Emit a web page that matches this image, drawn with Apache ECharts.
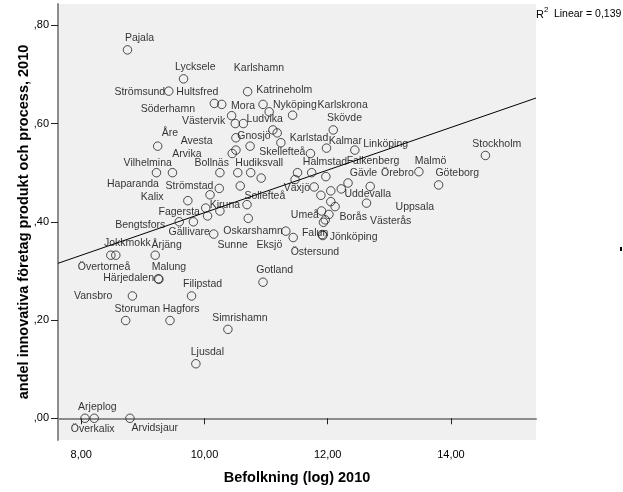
<!DOCTYPE html>
<html>
<head>
<meta charset="utf-8">
<script src="https://cdn.jsdelivr.net/npm/echarts@6/dist/echarts.min.js"></script>
<style>
html,body{margin:0;padding:0;background:#fff;}
#chart{width:623px;height:492px;}
</style>
</head>
<body>
<div id="chart"></div>
<script>
// ---- data ----
var names = ['Pajala','Lycksele','Strömsund','Karlshamn','Hultsfred','Mora','Katrineholm','Nyköping','Karlskrona','Söderhamn',
 'Västervik','Ludvika','Skövde','','','Gnosjö','Karlstad','','Åre','Kalmar',
 'Linköping','Avesta','Arvika','Skellefteå','Stockholm','Vilhelmina','Haparanda','Bollnäs','Hudiksvall','',
 'Halmstad','','Malmö','','','Falkenberg','Gävle','Göteborg','','Strömstad',
 'Växjö','Örebro','Uddevalla','','','','Kalix','','Uppsala','Sollefteå',
 'Västerås','Fagersta','Kiruna','Umeå','Borås','','Eksjö','','','Bengtsfors',
 'Sunne','Oskarshamn','Gällivare','Falun','Jönköping','Östersund','Jokkmokk','Övertorneå','Årjäng','Malung',
 'Härjedalen','Gotland','Vansbro','Filipstad','Storuman','Hagfors','Simrishamn','Ljusdal','Arjeplog','Överkalix','Arvidsjaur'];
var popLog = [8.75,9.66,9.42,10.70,10.16,10.28,10.95,11.05,11.43,10.44,
 10.50,10.63,12.09,11.11,11.18,10.51,11.24,10.74,9.24,11.98,
 12.44,10.51,10.45,11.72,14.56,9.22,9.48,10.25,10.54,10.75,
 11.51,11.74,13.48,10.92,11.47,11.97,12.33,13.80,10.58,10.24,
 11.78,12.69,12.22,12.05,10.09,11.89,9.73,12.05,12.63,10.69,
 12.12,10.02,10.25,11.90,12.02,10.05,10.71,11.96,11.93,9.59,
 9.82,11.32,10.15,11.92,11.91,11.44,8.48,8.56,9.20,9.25,
 9.26,10.95,8.83,9.79,8.72,9.44,10.38,9.86,8.06,8.21,8.79];
var innovShare = [0.750,0.691,0.666,0.665,0.641,0.639,0.639,0.624,0.617,0.616,
 0.600,0.600,0.587,0.587,0.581,0.571,0.561,0.554,0.554,0.550,
 0.546,0.546,0.539,0.539,0.535,0.500,0.500,0.500,0.500,0.500,
 0.500,0.500,0.502,0.489,0.486,0.492,0.479,0.475,0.473,0.468,
 0.471,0.472,0.467,0.463,0.455,0.454,0.443,0.441,0.438,0.435,
 0.431,0.428,0.422,0.422,0.415,0.412,0.407,0.404,0.399,0.400,
 0.400,0.381,0.375,0.372,0.374,0.368,0.332,0.332,0.332,0.284,
 0.283,0.277,0.249,0.249,0.199,0.199,0.181,0.111,0.000,0.000,0.000];
var xTicks = [8, 10, 12, 14];
var yTicks = [0, 0.2, 0.4, 0.6, 0.8];
var xRange = [7.622, 15.381];
var yRange = [-0.0442, 0.8434];
var fitIntercept = -0.0151;
var fitSlope = 0.04337;
var r2Text = '0,139';

// ---- label placement (pixel offsets of label centre from point) ----
var labelOffsets = {
 'Pajala':[12,-12],'Lycksele':[11.7,-12],'Strömsund':[-29,0.7],'Karlshamn':[11.3,-23.2],'Hultsfred':[-17,-11.6],
 'Mora':[21.3,1.7],'Katrineholm':[21.2,-14.2],'Nyköping':[25.7,-6.7],'Karlskrona':[50.1,-10],'Söderhamn':[-63.7,-6.4],
 'Västervik':[-31.7,-2],'Ludvika':[21.4,-4.4],'Skövde':[11.2,-11.4],'Gnosjö':[18,-2],'Karlstad':[28.1,-4.4],
 'Åre':[12.3,-12.7],'Kalmar':[18.8,-7],'Linköping':[30.8,-5.7],'Avesta':[-39.3,-8.6],'Arvika':[-45.3,0.6],
 'Skellefteå':[-28.2,-1.6],'Stockholm':[11.3,-11.2],'Vilhelmina':[-8.7,-9.4],'Haparanda':[-39.5,11.3],'Bollnäs':[-8.2,-9.4],
 'Hudiksvall':[21.5,-9.4],'Halmstad':[27.5,-11],'Malmö':[11.6,-11],'Falkenberg':[47.1,-15.5],'Gävle':[15.4,-9.7],
 'Göteborg':[18.7,-11.7],'Strömstad':[-29.8,-2.5],'Växjö':[-17.3,1],'Örebro':[27.2,-13.2],'Uddevalla':[26.5,5.3],
 'Kalix':[-35.7,-3.8],'Uppsala':[48.3,4.4],'Sollefteå':[17.8,-9],'Västerås':[55.5,14.3],'Fagersta':[-26.5,3.7],
 'Kiruna':[5,-5.8],'Umeå':[-16.7,4],'Borås':[24.3,3],'Eksjö':[21.2,27],'Bengtsfors':[-39,3.3],
 'Sunne':[39.3,23.7],'Oskarshamn':[-32.7,-0.3],'Gällivare':[-24.5,-1.7],'Falun':[-7.7,-2.5],'Jönköping':[31.4,2.8],
 'Östersund':[21.7,14.4],'Jokkmokk':[16.5,-11.7],'Övertorneå':[-11.8,11.7],'Årjäng':[11.4,-10],'Malung':[10.7,-11.4],
 'Härjedalen':[-30.3,-0.9],'Gotland':[11.7,-12.3],'Vansbro':[-39.2,0],'Filipstad':[11.1,-12],'Storuman':[11.7,-11.2],
 'Hagfors':[11.1,-11.2],'Simrishamn':[12,-11],'Ljusdal':[11.5,-11.7],'Arjeplog':[12.4,-11],'Överkalix':[-1.5,10.6],
 'Arvidsjaur':[24.8,9.6]
};

var pts = names.map(function (n, i) {
  var off = labelOffsets[n] || [0, 0];
  return {
    name: n,
    value: [popLog[i], innovShare[i]],
    label: { show: n !== '', offset: off }
  };
});
var fitLine = xRange.map(function (x) { return [x, fitIntercept + fitSlope * x]; });

var FONT = '"Liberation Sans", Arial, sans-serif';
var chart = echarts.init(document.getElementById('chart'), null, {renderer: 'canvas'});
chart.setOption({
  animation: false,
  backgroundColor: '#ffffff',
  grid: {
    left: 58, top: 4, width: 478, height: 436,
    show: true, backgroundColor: '#f0f0f0', borderWidth: 0,
    containLabel: false, outerBoundsMode: 'none'
  },
  xAxis: {
    type: 'value', min: xRange[0], max: xRange[1],
    name: 'Befolkning (log) 2010', nameLocation: 'middle', nameGap: 30,
    nameTextStyle: {fontFamily: FONT, fontSize: 14.5, fontWeight: 'bold', color: '#000'},
    axisLine: {show: true, lineStyle: {color: '#8c8c8c', width: 2}},
    axisTick: {show: true, customValues: xTicks, length: 6, lineStyle: {color: '#222', width: 1}},
    axisLabel: {customValues: xTicks, margin: 9, fontFamily: FONT, fontSize: 11, color: '#000',
      formatter: function (v) { return v.toFixed(2).replace('.', ','); }},
    splitLine: {show: false}
  },
  yAxis: {
    type: 'value', min: yRange[0], max: yRange[1],
    name: 'andel innovativa företag produkt och process, 2010', nameLocation: 'middle', nameGap: 27,
    nameMoveOverlap: false,
    nameTextStyle: {fontFamily: FONT, fontSize: 14.5, fontWeight: 'bold', color: '#000'},
    axisLine: {show: true, lineStyle: {color: '#8c8c8c', width: 2}},
    axisTick: {show: true, customValues: yTicks, length: 7, lineStyle: {color: '#222', width: 1}},
    axisLabel: {customValues: yTicks, margin: 9, fontFamily: FONT, fontSize: 11, color: '#000',
      formatter: function (v) { return v.toFixed(2).replace(/^0\./, ',').replace(/^-0\./, '-,'); }},
    splitLine: {show: false}
  },
  series: [
    {
      type: 'line', data: fitLine, symbol: 'none', silent: true,
      lineStyle: {color: '#000', width: 1}, z: 1
    },
    {
      type: 'scatter', data: pts, symbol: 'circle', symbolSize: 8.5, z: 2,
      itemStyle: {color: 'rgba(0,0,0,0)', borderColor: '#222', borderWidth: 1},
      label: {
        show: true, position: 'inside', align: 'center', verticalAlign: 'middle',
        fontFamily: FONT, fontSize: 10.5, color: '#000',
        formatter: function (p) { return p.name; }
      },
      emphasis: {disabled: true}
    }
  ],
  graphic: [
    {type: 'text', left: 536, top: 9, style: {text: 'R', font: '11px ' + FONT, fill: '#000'}},
    {type: 'text', left: 544, top: 6, style: {text: '2', font: '8px ' + FONT, fill: '#000'}},
    {type: 'text', left: 551, top: 9, style: {text: ' Linear = ' + r2Text, font: '10.5px ' + FONT, fill: '#000'}},
    {type: 'rect', shape: {x: 620, y: 247, width: 2, height: 4}, style: {fill: '#000'}}
  ]
});
</script>
</body>
</html>
